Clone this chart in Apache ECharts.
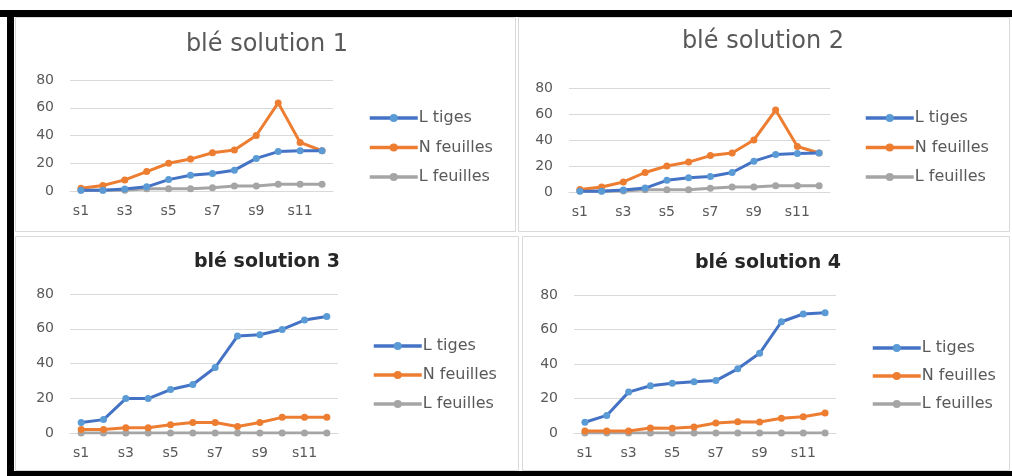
<!DOCTYPE html>
<html>
<head>
<meta charset="utf-8">
<title>blé solutions</title>
<script src="https://cdn.jsdelivr.net/npm/echarts@6/dist/echarts.min.js"></script>
<style>
  html, body { margin: 0; padding: 0; background: #ffffff; }
  #chart { width: 1012px; height: 476px; }
</style>
</head>
<body>
<div id="chart"></div>
<script>
// Weeks
const categories = ['s1', 's2', 's3', 's4', 's5', 's6', 's7', 's8', 's9', 's10', 's11', 's12'];
const seriesNames = ['L tiges', 'N feuilles', 'L feuilles'];
const yTicks = [0, 20, 40, 60, 80];

// blé solution 1
const sol1_Ltiges    = [0.5, 0.5, 1.5, 3, 8.2, 11.4, 12.6, 15, 23.5, 28.4, 29, 29];
const sol1_Nfeuilles = [2, 4, 8, 14, 20, 23, 27.6, 29.6, 40, 63.5, 35, 29];
const sol1_Lfeuilles = [0.5, 0.5, 0.5, 1.7, 1.7, 1.7, 2.4, 3.6, 3.6, 4.8, 4.8, 4.8];

// blé solution 2
const sol2_Ltiges    = [0.5, 0.5, 1.5, 3, 9, 11, 12, 15, 23.7, 28.9, 29.7, 30];
const sol2_Nfeuilles = [2, 3.9, 7.7, 15, 20, 23, 28, 30, 40, 63, 35, 30];
const sol2_Lfeuilles = [0.8, 0.8, 0.8, 1.8, 1.8, 1.8, 2.8, 3.8, 3.8, 4.9, 4.9, 4.9];

// blé solution 3
const sol3_Ltiges    = [6, 7.7, 19.8, 19.8, 25, 27.9, 37.7, 55.8, 56.5, 59.6, 65, 67];
const sol3_Nfeuilles = [2, 2, 3, 3, 4.8, 6, 6, 3.8, 6, 9, 9, 9];
const sol3_Lfeuilles = [0, 0, 0, 0, 0, 0, 0, 0, 0, 0, 0, 0];

// blé solution 4
const sol4_Ltiges    = [6.2, 10.2, 23.7, 27.4, 28.9, 29.7, 30.4, 37.2, 46.2, 64.5, 69, 69.7];
const sol4_Nfeuilles = [1.2, 1.2, 1.2, 2.9, 2.7, 3.5, 5.8, 6.5, 6.4, 8.5, 9.4, 11.6];
const sol4_Lfeuilles = [0, 0, 0, 0, 0, 0, 0, 0, 0, 0, 0, 0];

const titles = ['blé solution 1', 'blé solution 2', 'blé solution 3', 'blé solution 4'];
const panelData = [
  [sol1_Ltiges, sol1_Nfeuilles, sol1_Lfeuilles],
  [sol2_Ltiges, sol2_Nfeuilles, sol2_Lfeuilles],
  [sol3_Ltiges, sol3_Nfeuilles, sol3_Lfeuilles],
  [sol4_Ltiges, sol4_Nfeuilles, sol4_Lfeuilles]
];

// Layout of each panel (pixels)
const panels = [
  { box: [15, 17, 500, 214],  grid: [70, 80, 263, 111],  title: [267, 45, 'normal', 24, '#595959'], legend: [368, 110, 13.5] },
  { box: [518, 17, 491, 214], grid: [569, 88, 261, 104], title: [763, 42, 'normal', 24, '#595959'], legend: [864, 110, 13.5] },
  { box: [15, 236, 503, 234], grid: [70, 294, 268, 139], title: [267, 262, 'bold', 19, '#262626'], legend: [372, 338, 13] },
  { box: [522, 236, 487, 234], grid: [574, 295, 262, 138], title: [768, 263, 'bold', 19, '#262626'], legend: [871, 340, 12] }
];

const lineColors   = ['#4472C4', '#ED7D31', '#A5A5A5'];
const markerColors = ['#5B9BD5', '#ED7D31', '#A5A5A5'];
const FONT = '"DejaVu Sans", "Liberation Sans", sans-serif';

const grids = [], xAxes = [], yAxes = [], series = [], legends = [], graphics = [];

// frame: dark border on top, left and bottom
graphics.push({ type: 'rect', shape: { x: 0, y: 10, width: 1012, height: 7 }, style: { fill: '#000' }, silent: true });
graphics.push({ type: 'rect', shape: { x: 7, y: 10, width: 7, height: 466 }, style: { fill: '#000' }, silent: true });
graphics.push({ type: 'rect', shape: { x: 7, y: 471, width: 1005, height: 5 }, style: { fill: '#000' }, silent: true });

panels.forEach((p, i) => {
  const [bx, by, bw, bh] = p.box;
  graphics.push({
    type: 'rect', z: -10, silent: true,
    shape: { x: bx + 0.5, y: by + 0.5, width: bw, height: bh },
    style: { fill: '#ffffff', stroke: '#d9d9d9', lineWidth: 1 }
  });
  const [tx, ty, tw, ts, tc] = p.title;
  graphics.push({
    type: 'text', x: tx, y: ty, silent: true,
    style: { text: titles[i], align: 'center', verticalAlign: 'middle',
             fill: tc, font: tw + ' ' + ts + 'px ' + FONT }
  });

  const [gx, gy, gw, gh] = p.grid;
  grids.push({ left: gx, top: gy, width: gw, height: gh, containLabel: false });
  xAxes.push({
    type: 'category', gridIndex: i, data: categories, boundaryGap: true,
    axisTick: { show: false },
    axisLine: { lineStyle: { color: '#d9d9d9', width: 1 } },
    axisLabel: { interval: 1, color: '#595959', fontSize: 14, fontFamily: FONT, margin: 13 }
  });
  yAxes.push({
    type: 'value', gridIndex: i, min: yTicks[0], max: yTicks[yTicks.length - 1], interval: yTicks[1] - yTicks[0],
    axisLine: { show: false }, axisTick: { show: false },
    splitLine: { lineStyle: { color: '#d9d9d9', width: 1 } },
    axisLabel: { color: '#595959', fontSize: 14, fontFamily: FONT, margin: 16 }
  });

  seriesNames.forEach((name, k) => {
    series.push({
      name: name, type: 'line', xAxisIndex: i, yAxisIndex: i,
      data: panelData[i][k],
      symbol: 'circle', symbolSize: 7,
      lineStyle: { color: lineColors[k], width: 3 },
      itemStyle: { color: markerColors[k] },
      z: 10 - k,
      animation: false
    });
  });

  const [lx, ly, lg] = p.legend;
  legends.push({
    orient: 'vertical', left: lx, top: ly, itemGap: lg,
    itemWidth: 48, itemHeight: 10, padding: 0,
    data: seriesNames,
    selectedMode: false,
    lineStyle: { width: 3.5 },
    textStyle: { color: '#595959', fontSize: 16, lineHeight: 14, fontFamily: FONT, padding: [0, 0, 0, -4] }
  });
});

const chart = echarts.init(document.getElementById('chart'), null, { renderer: 'canvas' });
chart.setOption({
  animation: false,
  backgroundColor: '#ffffff',
  grid: grids,
  xAxis: xAxes,
  yAxis: yAxes,
  legend: legends,
  series: series,
  graphic: graphics
});
</script>
</body>
</html>
